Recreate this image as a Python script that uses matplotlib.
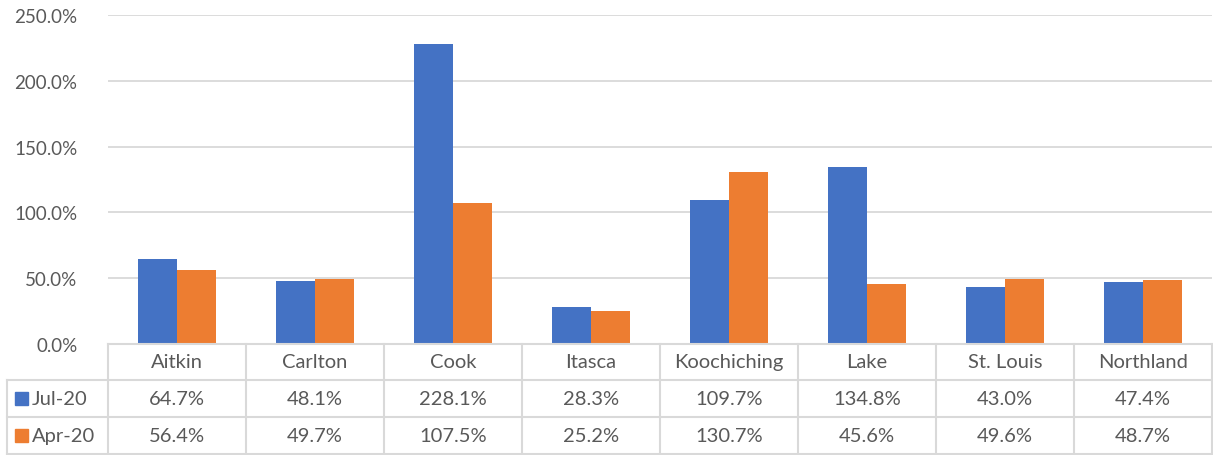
import matplotlib.pyplot as plt
from matplotlib.patches import Rectangle
from matplotlib.lines import Line2D
import numpy as np

categories = ["Aitkin", "Carlton", "Cook", "Itasca", "Koochiching", "Lake", "St. Louis", "Northland"]
series_names = ["Jul-20", "Apr-20"]
jul20 = [64.7, 48.1, 228.1, 28.3, 109.7, 134.8, 43.0, 47.4]
apr20 = [56.4, 49.7, 107.5, 25.2, 130.7, 45.6, 49.6, 48.7]
colors = ["#4472C4", "#ED7D31"]
yticks = [0, 50, 100, 150, 200, 250]

W, H = 1213, 456
plt.rcParams['font.family'] = ['Lato', 'DejaVu Sans']
txt = "#595959"
grid = "#D9D9D9"
fs = 14.5

fig = plt.figure(figsize=(W / 100, H / 100), dpi=100)
x0, x1, y0, y1 = 108, 1212, 345, 16
ax = fig.add_axes([x0 / W, 1 - y0 / H, (x1 - x0) / W, (y0 - y1) / H])

n = len(categories)
x = np.arange(n)
bw = 0.285
ax.bar(x - bw / 2, jul20, bw, color=colors[0], zorder=3)
ax.bar(x + bw / 2, apr20, bw, color=colors[1], zorder=3)
ax.set_xlim(-0.5, n - 0.5)
ax.set_ylim(0, 250)
ax.set_yticks(yticks)
ax.set_yticklabels([f"{v:.1f}%" for v in yticks], color=txt, fontsize=13.5)
ax.tick_params(axis='y', length=0, pad=22)
ax.set_xticks([])
ax.grid(axis='y', color=grid, lw=1.3, zorder=0)
for s in ax.spines.values():
    s.set_visible(False)


def fx(px):
    return px / W


def fy(py):
    return 1 - py / H


# data table below the plot
cw = (x1 - x0) / n
rows = [345, 381, 418, 455]
left = 7
lines = []
lines.append(((x0, x1), (345, 345)))
for r in rows[1:]:
    lines.append(((left, x1), (r, r)))
for i in range(n + 1):
    xx = x0 + i * cw
    lines.append(((xx, xx), (345, 455)))
lines.append(((left, left), (381, 455)))
for (xs, ys) in lines:
    fig.add_artist(Line2D([fx(xs[0]), fx(xs[1])], [fy(ys[0]), fy(ys[1])],
                          color=grid, lw=1.5))

for i, c in enumerate(categories):
    cx = x0 + (i + 0.5) * cw
    fig.text(fx(cx), fy((rows[0] + rows[1]) / 2), c, ha='center', va='center',
             color=txt, fontsize=fs)
    for j, vals in enumerate([jul20, apr20]):
        fig.text(fx(cx), fy((rows[j + 1] + rows[j + 2]) / 2), f"{vals[i]:.1f}%",
                 ha='center', va='center', color=txt, fontsize=fs)

for j, name in enumerate(series_names):
    cy = (rows[j + 1] + rows[j + 2]) / 2
    fig.add_artist(Rectangle((fx(15), fy(cy + 6)), 13 / W, 13 / H, color=colors[j]))
    fig.text(fx(32), fy(cy), name, ha='left', va='center', color=txt, fontsize=fs)

fig.savefig("out.png", dpi=100)
